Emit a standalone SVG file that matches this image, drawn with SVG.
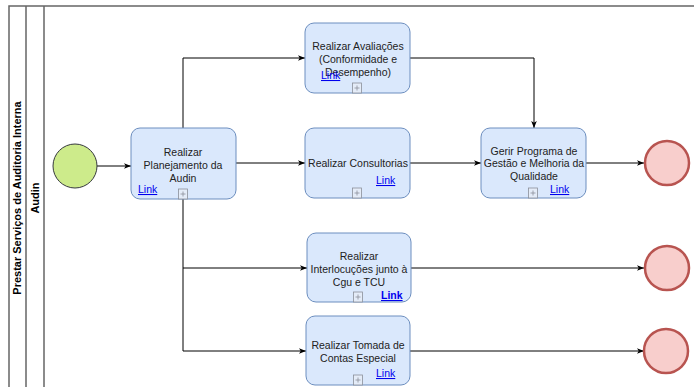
<svg xmlns="http://www.w3.org/2000/svg" width="694" height="387" viewBox="0 0 694 387">
<style>
.lane{fill:none;stroke:#666;stroke-width:1.5}
.task{fill:#dae8fc;stroke:#6c8ebf;stroke-width:1}
.t{font-family:"Liberation Sans",Arial,sans-serif;font-size:10.5px;fill:#222;text-anchor:middle}
.hdr{font-family:"Liberation Sans",Arial,sans-serif;font-size:11px;font-weight:bold;fill:#000;text-anchor:middle}
.lnk{font-family:"Liberation Sans",Arial,sans-serif;font-size:10.5px;fill:#0000ee;text-decoration:underline}
.plus{fill:#e4ecf8;stroke:#8a8f99;stroke-width:0.8}
.plusl{stroke:#8a8f99;stroke-width:0.8}
.edge{fill:none;stroke:#000;stroke-width:1}
.end{fill:#f8cecc;stroke:#b85450;stroke-width:2.5}
</style>
<defs>
<marker id="arr" viewBox="0 0 10 10" refX="10" refY="5" markerWidth="7" markerHeight="7" markerUnits="userSpaceOnUse" orient="auto">
<path d="M0,1 L10,5 L0,9 L2.5,5 Z" fill="#000"/>
</marker>
<g id="plusIcon">
<rect class="plus" x="-4.5" y="-5" width="9" height="10"/>
<path class="plusl" d="M-2.5,0 H2.5 M0,-2.5 V2.5"/>
</g>
</defs>
<rect width="694" height="387" fill="#fff"/>
<g id="pool">
<path class="lane" d="M700,6 H9 V392 M26,6 V392 M44,6 V392"/>
<text class="hdr" transform="translate(21,198) rotate(-90)">Prestar Serviços de Auditoria Interna</text>
<text class="hdr" transform="translate(39,198) rotate(-90)">Audin</text>
</g>
<g id="connectors">
<path class="edge" marker-end="url(#arr)" d="M97,166 H131"/>
<path class="edge" marker-end="url(#arr)" d="M183,128 V58 H305"/>
<path class="edge" marker-end="url(#arr)" d="M236,163 H305"/>
<path class="edge" marker-end="url(#arr)" d="M183,199 V268 H307"/>
<path class="edge" marker-end="url(#arr)" d="M183,268 V351 H306"/>
<path class="edge" marker-end="url(#arr)" d="M410,58 H534 V128"/>
<path class="edge" marker-end="url(#arr)" d="M410,163 H481"/>
<path class="edge" marker-end="url(#arr)" d="M586,163 H644"/>
<path class="edge" marker-end="url(#arr)" d="M411,268 H644"/>
<path class="edge" marker-end="url(#arr)" d="M410,351 H644"/>
</g>
<g id="start">
<circle cx="75" cy="166" r="22" fill="#cdeb8b" stroke="#36393d" stroke-width="1"/>
</g>
<g id="planejamento">
<rect class="task" x="131" y="128" width="105" height="71" rx="9"/>
<text class="t" x="183" y="156">Realizar</text>
<text class="t" x="183" y="169">Planejamento da</text>
<text class="t" x="183" y="182">Audin</text>
<text class="lnk" x="138" y="193">Link</text>
<use href="#plusIcon" x="183" y="194"/>
</g>
<g id="avaliacoes">
<rect class="task" x="305" y="23" width="105" height="70" rx="9"/>
<text class="t" x="358" y="50">Realizar Avaliações</text>
<text class="t" x="358" y="63">(Conformidade e</text>
<text class="t" x="358" y="76">Desempenho)</text>
<text class="lnk" x="321" y="79">Link</text>
<use href="#plusIcon" x="357" y="88"/>
</g>
<g id="consultorias">
<rect class="task" x="305" y="128" width="105" height="70" rx="9"/>
<text class="t" x="358" y="167">Realizar Consultorias</text>
<text class="lnk" x="376" y="184">Link</text>
<use href="#plusIcon" x="357" y="193"/>
</g>
<g id="gerir">
<rect class="task" x="481" y="128" width="105" height="70" rx="9"/>
<text class="t" x="534" y="155">Gerir Programa de</text>
<text class="t" x="534" y="167">Gestão e Melhoria da</text>
<text class="t" x="534" y="180">Qualidade</text>
<use href="#plusIcon" x="533" y="193"/>
<text class="lnk" x="550" y="193">Link</text>
</g>
<g id="interlocucoes">
<rect class="task" x="307" y="233" width="104" height="69" rx="9"/>
<text class="t" x="359" y="260">Realizar</text>
<text class="t" x="359" y="273">Interlocuções junto à</text>
<text class="t" x="359" y="286">Cgu e TCU</text>
<use href="#plusIcon" x="358" y="297"/>
<text class="lnk" x="381" y="299" font-weight="bold">Link</text>
</g>
<g id="tomada">
<rect class="task" x="306" y="316" width="104" height="69" rx="9"/>
<text class="t" x="358" y="349">Realizar Tomada de</text>
<text class="t" x="358" y="362">Contas Especial</text>
<use href="#plusIcon" x="358" y="380"/>
<text class="lnk" x="376" y="377">Link</text>
</g>
<g id="end1"><circle class="end" cx="667" cy="163" r="22"/></g>
<g id="end2"><circle class="end" cx="667" cy="268" r="22"/></g>
<g id="end3"><circle class="end" cx="666" cy="351" r="22"/></g>
</svg>
